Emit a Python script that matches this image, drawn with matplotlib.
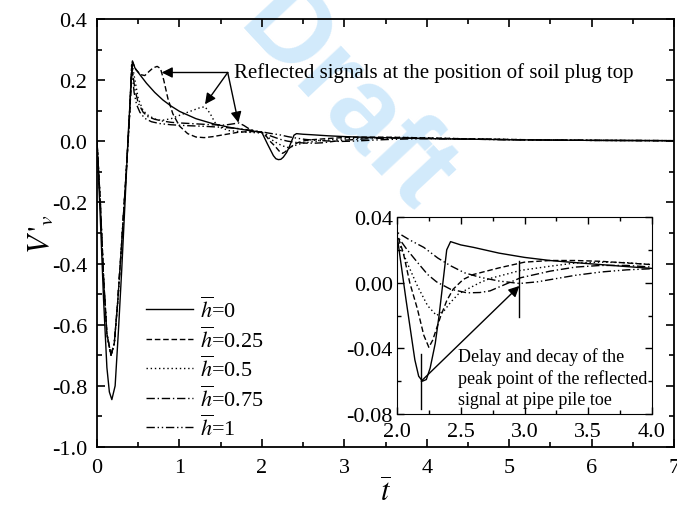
import matplotlib
matplotlib.use("Agg")
import matplotlib.pyplot as plt

plt.rcParams['font.family'] = ['Liberation Serif', 'DejaVu Serif']
plt.rcParams['mathtext.fontset'] = 'stix'
plt.rcParams['axes.unicode_minus'] = False

# === data ===
h_labels = ['0', '0.25', '0.5', '0.75', '1']

t_h0 = [0, 0.04, 0.08, 0.12, 0.15, 0.18, 0.22, 0.26, 0.30, 0.34, 0.38, 0.43,
        0.46, 0.5, 0.6, 0.7, 0.8, 0.9, 1.0, 1.2, 1.4, 1.6, 1.8, 2.0,
        2.07, 2.14, 2.17, 2.2, 2.23, 2.26, 2.3, 2.33, 2.36, 2.39, 2.42,
        2.5, 2.6, 2.8, 3.0, 3.2, 3.4, 3.6, 3.8, 4.0, 4.5, 5.0, 5.5, 6.0, 6.5, 7.0]
v_h0 = [0, -0.25, -0.52, -0.74, -0.82, -0.845, -0.80, -0.62, -0.42, -0.20, 0.03, 0.263,
        0.24, 0.225, 0.19, 0.16, 0.135, 0.115, 0.098, 0.074, 0.058, 0.046, 0.037, 0.029,
        -0.010, -0.047, -0.057, -0.060, -0.059, -0.052, -0.037, -0.020, 0.0, 0.020, 0.025,
        0.023, 0.0215, 0.018, 0.0154, 0.0135, 0.0122, 0.011, 0.0098, 0.0087, 0.007, 0.005, 0.004, 0.003, 0.0025, 0.002]

t_h025 = [0, 0.04, 0.08, 0.12, 0.17, 0.21, 0.25, 0.30, 0.35, 0.39, 0.43,
          0.47, 0.53, 0.58, 0.63, 0.68, 0.73, 0.77, 0.81, 0.86, 0.92, 1.0, 1.1, 1.2, 1.3, 1.4,
          1.55, 1.7, 1.85, 1.95, 2.0, 2.05, 2.1, 2.16, 2.21, 2.25, 2.28, 2.34, 2.39, 2.44, 2.52,
          2.6, 2.8, 3.0, 3.2, 3.4, 3.6, 3.8, 4.0, 4.5, 5.0, 5.5, 6.0, 6.5, 7.0]
v_h025 = [0, -0.2, -0.45, -0.63, -0.70, -0.66, -0.53, -0.33, -0.12, 0.06, 0.26,
          0.235, 0.218, 0.215, 0.228, 0.24, 0.245, 0.238, 0.20, 0.14, 0.09, 0.05, 0.025, 0.014, 0.012, 0.015,
          0.022, 0.029, 0.032, 0.031, 0.030, 0.018, 0.0, -0.016, -0.032, -0.0394, -0.035, -0.021, -0.011, -0.004, 0.002,
          0.005, 0.009, 0.0125, 0.0135, 0.0135, 0.013, 0.012, 0.011, 0.008, 0.006, 0.004, 0.003, 0.0025, 0.002]

t_h05 = [0, 0.04, 0.08, 0.12, 0.17, 0.21, 0.25, 0.30, 0.35, 0.39, 0.425,
         0.46, 0.5, 0.56, 0.62, 0.7, 0.78, 0.9, 1.03, 1.15, 1.25, 1.31, 1.37, 1.43, 1.5, 1.6,
         1.8, 2.0, 2.08, 2.16, 2.24, 2.31, 2.37, 2.42, 2.48, 2.55, 2.65, 2.73, 2.85, 2.97,
         3.2, 3.4, 3.6, 3.8, 4.0, 4.5, 5.0, 5.5, 6.0, 6.5, 7.0]
v_h05 = [0, -0.2, -0.45, -0.63, -0.70, -0.66, -0.53, -0.33, -0.12, 0.06, 0.255,
         0.20, 0.14, 0.10, 0.085, 0.073, 0.068, 0.074, 0.088, 0.10, 0.11, 0.113, 0.092, 0.062, 0.045, 0.035,
         0.030, 0.027, 0.012, -0.002, -0.014, -0.020, -0.017, -0.012, -0.007, -0.004, 0.0, 0.0026, 0.005, 0.0075,
         0.010, 0.012, 0.0125, 0.0122, 0.011, 0.008, 0.006, 0.004, 0.003, 0.0025, 0.002]

t_h075 = [0, 0.04, 0.08, 0.12, 0.17, 0.21, 0.25, 0.30, 0.35, 0.39, 0.42,
          0.46, 0.5, 0.56, 0.62, 0.7, 0.8, 0.9, 1.0, 1.2, 1.4, 1.55, 1.65, 1.72, 1.78, 1.85,
          1.92, 2.0, 2.08, 2.16, 2.24, 2.31, 2.42, 2.55, 2.65, 2.73, 2.85, 2.97,
          3.2, 3.4, 3.6, 3.8, 4.0, 4.5, 5.0, 5.5, 6.0, 6.5, 7.0]
v_h075 = [0, -0.2, -0.45, -0.63, -0.70, -0.66, -0.53, -0.33, -0.12, 0.06, 0.25,
          0.17, 0.125, 0.095, 0.08, 0.072, 0.066, 0.062, 0.060, 0.057, 0.054, 0.053, 0.057, 0.060, 0.052, 0.040,
          0.033, 0.0286, 0.020, 0.0124, 0.005, 0.0005, -0.004, -0.0062, -0.006, -0.005, -0.001, 0.003,
          0.007, 0.0095, 0.0105, 0.0105, 0.0095, 0.0075, 0.0055, 0.004, 0.003, 0.0025, 0.002]

t_h1 = [0, 0.04, 0.08, 0.12, 0.17, 0.21, 0.25, 0.30, 0.35, 0.39, 0.42,
        0.45, 0.48, 0.52, 0.58, 0.66, 0.76, 0.9, 1.1, 1.3, 1.5, 1.7, 1.9, 2.0,
        2.1, 2.21, 2.32, 2.42, 2.53, 2.65, 2.8, 2.96, 3.1, 3.25, 3.4, 3.6, 3.8, 4.0,
        4.5, 5.0, 5.5, 6.0, 6.5, 7.0]
v_h1 = [0, -0.2, -0.45, -0.63, -0.70, -0.66, -0.53, -0.33, -0.12, 0.06, 0.245,
        0.16, 0.12, 0.095, 0.075, 0.064, 0.058, 0.054, 0.051, 0.049, 0.046, 0.042, 0.035, 0.0307,
        0.026, 0.0215, 0.015, 0.0103, 0.006, 0.0033, 0.001, -0.0005, 0.0005, 0.0025, 0.0045, 0.0065, 0.0078, 0.0085,
        0.007, 0.005, 0.004, 0.003, 0.0025, 0.002]

series_t = [t_h0, t_h025, t_h05, t_h075, t_h1]
series_v = [v_h0, v_h025, v_h05, v_h075, v_h1]
line_styles = ['-', (0, (4, 2)), (0, (1, 2)), (0, (6, 2, 1, 2)), (0, (6, 2, 1, 2, 1, 2))]

# arrows: text anchor and the bumps they point at
reflect_origin = (1.586, 0.225)
reflect_targets = [(0.785, 0.225), (1.31, 0.121), (1.715, 0.061)]
# inset marks
delay_start = (2.19, -0.060)
delay_end = (2.96, -0.002)
mark_lines = [(2.19, -0.0435, -0.077), (2.96, 0.0134, -0.021)]

# === figure ===
fig = plt.figure(figsize=(6.77, 5.10), dpi=100)
fig.text(0.51, 0.80, 'Draft', rotation=-47, color='#d2eafb', fontsize=80,
         fontweight='bold', family='Liberation Sans', ha='center', va='center', zorder=-1)

ax = fig.add_axes([97 / 677, 62 / 510, 577 / 677, 428 / 510])
ax.set_facecolor('none')
for t, v, ls, lab in zip(series_t, series_v, line_styles, h_labels):
    ax.plot(t, v, color='k', lw=1.0, linestyle=ls, label=r'$\overline{h}$=' + lab)

ax.set_xlim(0, 7)
ax.set_ylim(-1.0, 0.4)
ax.set_xticks(range(0, 8))
ax.set_xticks([0.5 + i for i in range(7)], minor=True)
ax.set_yticks([-1.0, -0.8, -0.6, -0.4, -0.2, 0.0, 0.2, 0.4])
ax.set_yticks([-0.9, -0.7, -0.5, -0.3, -0.1, 0.1, 0.3], minor=True)
ax.yaxis.set_major_formatter(matplotlib.ticker.FormatStrFormatter('%.1f'))
ax.tick_params(which='both', direction='in', top=True, right=True, labelsize=16, width=1.2)
ax.tick_params(which='major', length=6)
ax.tick_params(which='minor', length=3.5)
ax.tick_params(axis='y', pad=7)
ax.tick_params(axis='x', pad=8)
for s in ax.spines.values():
    s.set_linewidth(1.3)
ax.set_xlabel(r'$\overline{t}$', fontsize=22, labelpad=0)
ax.set_ylabel(r"$V\,'_v$", fontsize=22, labelpad=-3)

ax.legend(loc='upper left', bbox_to_anchor=(0.07, 0.372), frameon=False, fontsize=16,
          handlelength=2.1, handletextpad=0.3, labelspacing=0.18, borderaxespad=0)

ax.annotate('Reflected signals at the position of soil plug top', xy=reflect_origin,
            xytext=(reflect_origin[0] + 0.08, reflect_origin[1]), fontsize=15,
            va='center', ha='left')
for tx, ty in reflect_targets:
    ax.annotate('', xy=(tx, ty), xytext=reflect_origin,
                arrowprops=dict(arrowstyle='-|>', color='k', lw=1.0, mutation_scale=16,
                                shrinkA=0, shrinkB=0))

# === inset ===
axi = fig.add_axes([397 / 677, 95 / 510, 255 / 677, 197 / 510])
axi.set_facecolor('none')
for t, v, ls in zip(series_t, series_v, line_styles):
    axi.plot(t, v, color='k', lw=1.0, linestyle=ls)
axi.set_xlim(2.0, 4.0)
axi.set_ylim(-0.08, 0.04)
axi.set_xticks([2.0, 2.5, 3.0, 3.5, 4.0])
axi.set_xticks([2.25, 2.75, 3.25, 3.75], minor=True)
axi.set_yticks([-0.08, -0.04, 0.0, 0.04])
axi.set_yticks([-0.06, -0.02, 0.02], minor=True)
axi.xaxis.set_major_formatter(matplotlib.ticker.FormatStrFormatter('%.1f'))
axi.yaxis.set_major_formatter(matplotlib.ticker.FormatStrFormatter('%.2f'))
axi.tick_params(which='both', direction='in', top=True, right=True, labelsize=16, width=1.0)
axi.tick_params(axis='x', pad=6)
axi.tick_params(axis='y', pad=3)
axi.tick_params(which='major', length=5)
axi.tick_params(which='minor', length=3)
for x, y0, y1 in mark_lines:
    axi.plot([x, x], [y0, y1], color='k', lw=1.0)
axi.annotate('', xy=delay_end, xytext=delay_start,
             arrowprops=dict(arrowstyle='-|>', color='k', lw=1.0, mutation_scale=16,
                             shrinkA=0, shrinkB=0))
axi.text(2.48, -0.058, 'Delay and decay of the\npeak point of the reflected\nsignal at pipe pile toe',
         fontsize=13, va='center', ha='left', linespacing=1.3)

fig.savefig('out.png', dpi=100)
